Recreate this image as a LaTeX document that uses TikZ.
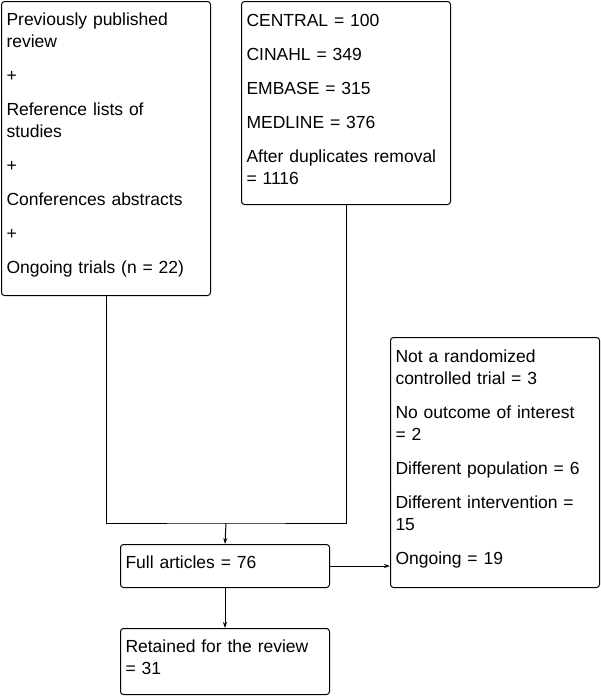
\documentclass[tikz,border=0pt]{standalone}
\usepackage{fontspec}
\setmainfont{Liberation Sans}
\usetikzlibrary{arrows.meta,positioning}
\tikzset{
  box/.style={draw,rounded corners=3pt,anchor=north west,align=left,
    inner xsep=5pt,inner ysep=0pt,text width=199pt,
    font=\fontsize{17.5}{22}\selectfont,
    execute at end node={\par\vspace{8pt}}},
}
\begin{document}
\begin{tikzpicture}[x=1pt,y=-1pt,line width=1pt,>={Stealth[length=6pt,width=4pt]}]
  \useasboundingbox (0,0) rectangle (601,696);
  \node[box,minimum height=294pt] (lit) at (1,1) {Previously published\\review\\[12pt]+\\[12pt]Reference lists of\\studies\\[12pt]+\\[12pt]Conferences abstracts\\[12pt]+\\[12pt]Ongoing trials (n = 22)};
  \node[box,minimum height=203pt] (db) at (241,1) {CENTRAL = 100\\[12pt]CINAHL = 349\\[12pt]EMBASE = 315\\[12pt]MEDLINE = 376\\[12pt]After duplicates removal\\= 1116};
  \node[box,minimum height=250pt] (excl) at (390,337) {Not a randomized\\controlled trial = 3\\[12pt]No outcome of interest\\= 2\\[12pt]Different population = 6\\[12pt]Different intervention =\\15\\[12pt]Ongoing = 19};
  \node[box,minimum height=43pt] (full) at (120,544) {Full articles = 76};
  \node[box,minimum height=66pt] (kept) at (120,628) {Retained for the review\\= 31};

  \coordinate (join) at (226,523);
  \draw (lit.south) |- (join) -| (db.south);
  \draw[->] (join) -- (full.north);
  \draw[->] (full.south) -- (kept.north);
  \draw[->] (full.east) -- (excl.west |- full.east);
\end{tikzpicture}
\end{document}
